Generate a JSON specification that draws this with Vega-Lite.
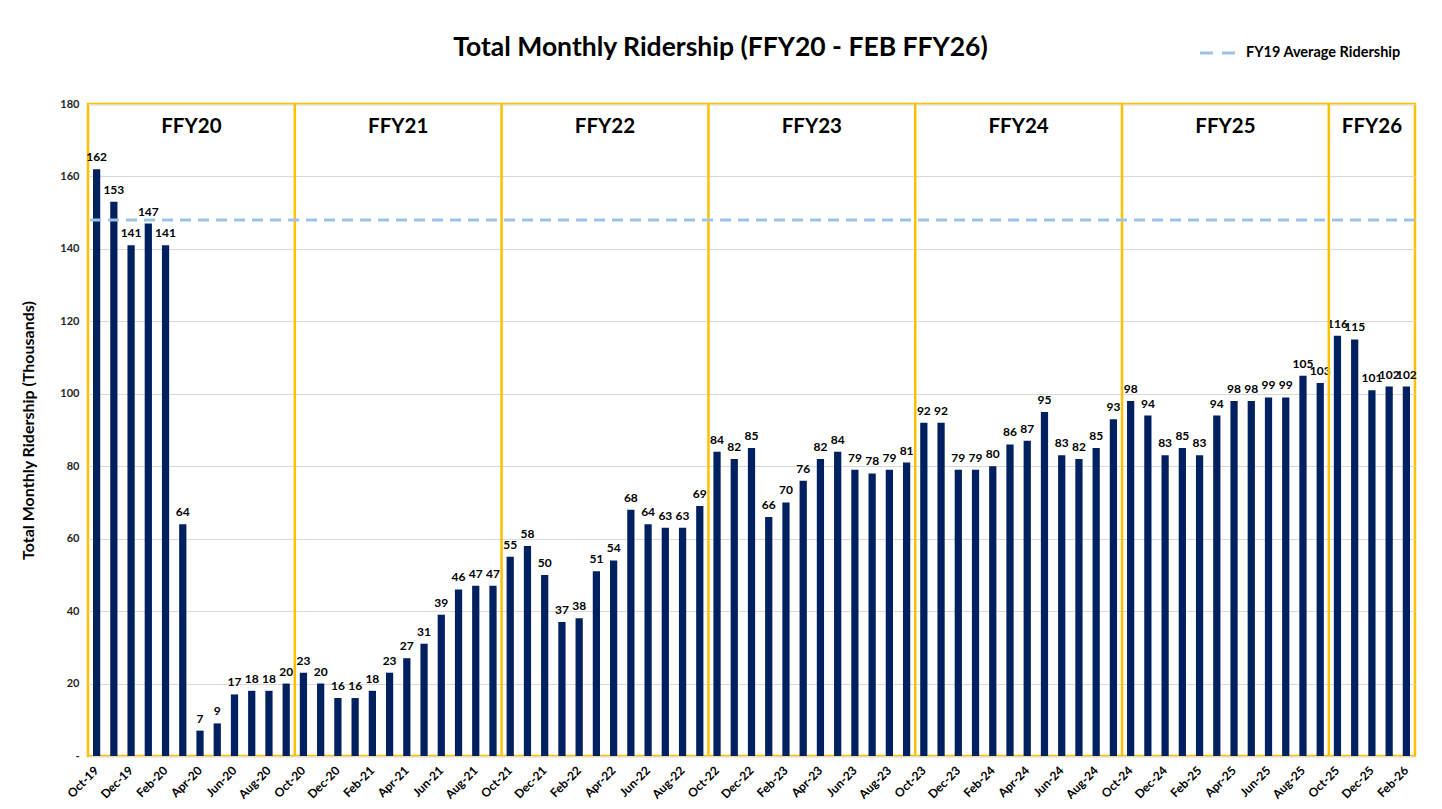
{
  "$schema": "https://vega.github.io/schema/vega-lite/v6.json",
  "width": 1327,
  "height": 652,
  "autosize": "none",
  "padding": {"left": 88, "top": 104, "right": 27, "bottom": 53},
  "background": "white",
  "config": {
    "font": "Lato",
    "view": {"stroke": "#FFC000", "strokeWidth": 2.5}
  },
  "title": {
    "text": "Total Monthly Ridership (FFY20 - FEB FFY26)",
    "font": "Lato",
    "fontSize": 26.5,
    "fontWeight": "bold",
    "color": "#000000",
    "anchor": "middle",
    "dx": -31,
    "offset": -28
  },
  "datasets": {
    "months": [
      {"month": "Oct-19", "riders": 162}, {"month": "Nov-19", "riders": 153}, {"month": "Dec-19", "riders": 141},
      {"month": "Jan-20", "riders": 147}, {"month": "Feb-20", "riders": 141}, {"month": "Mar-20", "riders": 64},
      {"month": "Apr-20", "riders": 7}, {"month": "May-20", "riders": 9}, {"month": "Jun-20", "riders": 17},
      {"month": "Jul-20", "riders": 18}, {"month": "Aug-20", "riders": 18}, {"month": "Sep-20", "riders": 20},
      {"month": "Oct-20", "riders": 23}, {"month": "Nov-20", "riders": 20}, {"month": "Dec-20", "riders": 16},
      {"month": "Jan-21", "riders": 16}, {"month": "Feb-21", "riders": 18}, {"month": "Mar-21", "riders": 23},
      {"month": "Apr-21", "riders": 27}, {"month": "May-21", "riders": 31}, {"month": "Jun-21", "riders": 39},
      {"month": "Jul-21", "riders": 46}, {"month": "Aug-21", "riders": 47}, {"month": "Sep-21", "riders": 47},
      {"month": "Oct-21", "riders": 55}, {"month": "Nov-21", "riders": 58}, {"month": "Dec-21", "riders": 50},
      {"month": "Jan-22", "riders": 37}, {"month": "Feb-22", "riders": 38}, {"month": "Mar-22", "riders": 51},
      {"month": "Apr-22", "riders": 54}, {"month": "May-22", "riders": 68}, {"month": "Jun-22", "riders": 64},
      {"month": "Jul-22", "riders": 63}, {"month": "Aug-22", "riders": 63}, {"month": "Sep-22", "riders": 69},
      {"month": "Oct-22", "riders": 84}, {"month": "Nov-22", "riders": 82}, {"month": "Dec-22", "riders": 85},
      {"month": "Jan-23", "riders": 66}, {"month": "Feb-23", "riders": 70}, {"month": "Mar-23", "riders": 76},
      {"month": "Apr-23", "riders": 82}, {"month": "May-23", "riders": 84}, {"month": "Jun-23", "riders": 79},
      {"month": "Jul-23", "riders": 78}, {"month": "Aug-23", "riders": 79}, {"month": "Sep-23", "riders": 81},
      {"month": "Oct-23", "riders": 92}, {"month": "Nov-23", "riders": 92}, {"month": "Dec-23", "riders": 79},
      {"month": "Jan-24", "riders": 79}, {"month": "Feb-24", "riders": 80}, {"month": "Mar-24", "riders": 86},
      {"month": "Apr-24", "riders": 87}, {"month": "May-24", "riders": 95}, {"month": "Jun-24", "riders": 83},
      {"month": "Jul-24", "riders": 82}, {"month": "Aug-24", "riders": 85}, {"month": "Sep-24", "riders": 93},
      {"month": "Oct-24", "riders": 98}, {"month": "Nov-24", "riders": 94}, {"month": "Dec-24", "riders": 83},
      {"month": "Jan-25", "riders": 85}, {"month": "Feb-25", "riders": 83}, {"month": "Mar-25", "riders": 94},
      {"month": "Apr-25", "riders": 98}, {"month": "May-25", "riders": 98}, {"month": "Jun-25", "riders": 99},
      {"month": "Jul-25", "riders": 99}, {"month": "Aug-25", "riders": 105}, {"month": "Sep-25", "riders": 103},
      {"month": "Oct-25", "riders": 116}, {"month": "Nov-25", "riders": 115}, {"month": "Dec-25", "riders": 101},
      {"month": "Jan-26", "riders": 102}, {"month": "Feb-26", "riders": 102}
    ],
    "years": [
      {"fy": "FFY20", "start": "Oct-19", "mid": "Apr-20", "months": 12},
      {"fy": "FFY21", "start": "Oct-20", "mid": "Apr-21", "months": 12},
      {"fy": "FFY22", "start": "Oct-21", "mid": "Apr-22", "months": 12},
      {"fy": "FFY23", "start": "Oct-22", "mid": "Apr-23", "months": 12},
      {"fy": "FFY24", "start": "Oct-23", "mid": "Apr-24", "months": 12},
      {"fy": "FFY25", "start": "Oct-24", "mid": "Apr-25", "months": 12},
      {"fy": "FFY26", "start": "Oct-25", "mid": "Dec-25", "months": 5}
    ]
  },
  "layer": [
    {
      "data": {"name": "months"},
      "mark": {"type": "bar", "color": "#002060", "width": {"band": 0.42}},
      "encoding": {
        "x": {
          "field": "month",
          "type": "nominal",
          "sort": null,
          "scale": {
            "type": "band",
            "paddingInner": 0,
            "paddingOuter": 0,
            "domain": ["Oct-19","Nov-19","Dec-19","Jan-20","Feb-20","Mar-20","Apr-20","May-20","Jun-20","Jul-20","Aug-20","Sep-20",
                       "Oct-20","Nov-20","Dec-20","Jan-21","Feb-21","Mar-21","Apr-21","May-21","Jun-21","Jul-21","Aug-21","Sep-21",
                       "Oct-21","Nov-21","Dec-21","Jan-22","Feb-22","Mar-22","Apr-22","May-22","Jun-22","Jul-22","Aug-22","Sep-22",
                       "Oct-22","Nov-22","Dec-22","Jan-23","Feb-23","Mar-23","Apr-23","May-23","Jun-23","Jul-23","Aug-23","Sep-23",
                       "Oct-23","Nov-23","Dec-23","Jan-24","Feb-24","Mar-24","Apr-24","May-24","Jun-24","Jul-24","Aug-24","Sep-24",
                       "Oct-24","Nov-24","Dec-24","Jan-25","Feb-25","Mar-25","Apr-25","May-25","Jun-25","Jul-25","Aug-25","Sep-25",
                       "Oct-25","Nov-25","Dec-25","Jan-26","Feb-26"]
          },
          "axis": {
            "title": null,
            "values": ["Oct-19","Dec-19","Feb-20","Apr-20","Jun-20","Aug-20","Oct-20","Dec-20","Feb-21","Apr-21","Jun-21","Aug-21",
                       "Oct-21","Dec-21","Feb-22","Apr-22","Jun-22","Aug-22","Oct-22","Dec-22","Feb-23","Apr-23","Jun-23","Aug-23",
                       "Oct-23","Dec-23","Feb-24","Apr-24","Jun-24","Aug-24","Oct-24","Dec-24","Feb-25","Apr-25","Jun-25","Aug-25",
                       "Oct-25","Dec-25","Feb-26"],
            "labelAngle": -45,
            "labelAlign": "right",
            "labelBaseline": "middle",
            "labelPadding": 12,
            "labelFont": "Lato",
            "labelFontSize": 12,
            "labelFontWeight": "bold",
            "labelColor": "#000000",
            "ticks": false,
            "domain": false,
            "grid": false
          }
        },
        "y": {
          "field": "riders",
          "type": "quantitative",
          "scale": {"domain": [0, 180], "nice": false},
          "axis": {
            "title": "Total Monthly Ridership (Thousands)",
            "titleFont": "Lato",
            "titleFontSize": 16,
            "titleFontWeight": "bold",
            "titleColor": "#000000",
            "titlePadding": 23,
            "values": [0, 20, 40, 60, 80, 100, 120, 140, 160, 180],
            "labelExpr": "datum.value == 0 ? '-' : datum.label",
            "labelFont": "Lato",
            "labelFontSize": 11,
            "labelFontWeight": "bold",
            "labelColor": "#262626",
            "labelPadding": 9,
            "ticks": false,
            "domain": false,
            "grid": true,
            "gridColor": "#D9D9D9",
            "gridWidth": 1
          }
        }
      }
    },
    {
      "data": {"name": "months"},
      "mark": {"type": "text", "dy": -12, "font": "Lato", "fontSize": 12, "fontWeight": "bold", "color": "#000000"},
      "encoding": {
        "x": {"field": "month", "type": "nominal", "sort": null},
        "y": {"field": "riders", "type": "quantitative"},
        "text": {"field": "riders", "type": "quantitative"}
      }
    },
    {
      "data": {"name": "years"},
      "transform": [{"filter": "datum.fy != 'FFY20'"}],
      "mark": {"type": "rule", "color": "#FFC000", "strokeWidth": 2.5},
      "encoding": {
        "x": {"field": "start", "type": "nominal", "bandPosition": 0}
      }
    },
    {
      "data": {"name": "years"},
      "transform": [{"filter": "datum.months == 12"}],
      "mark": {"type": "text", "font": "Lato", "fontSize": 20.5, "fontWeight": "bold", "color": "#000000", "baseline": "middle"},
      "encoding": {
        "x": {"field": "mid", "type": "nominal", "bandPosition": 0},
        "y": {"datum": 173.6},
        "text": {"field": "fy", "type": "nominal"}
      }
    },
    {
      "data": {"name": "years"},
      "transform": [{"filter": "datum.months != 12"}],
      "mark": {"type": "text", "font": "Lato", "fontSize": 20.5, "fontWeight": "bold", "color": "#000000", "baseline": "middle"},
      "encoding": {
        "x": {"field": "mid", "type": "nominal", "bandPosition": 0.5},
        "y": {"datum": 173.6},
        "text": {"field": "fy", "type": "nominal"}
      }
    },
    {
      "data": {"values": [{"series": "FY19 Average Ridership", "avg": 148}]},
      "mark": {"type": "rule", "strokeWidth": 3, "strokeDash": [11, 7]},
      "encoding": {
        "y": {"field": "avg", "type": "quantitative"},
        "color": {
          "field": "series",
          "type": "nominal",
          "scale": {"range": ["#9DC3E6"]},
          "legend": {
            "title": null,
            "orient": "none",
            "legendX": 1110,
            "legendY": -71,
            "symbolType": "stroke",
            "symbolSize": 1300,
            "symbolStrokeWidth": 3,
            "symbolDash": [13, 9],
            "labelFont": "Lato",
            "labelFontSize": 14.5,
            "labelFontWeight": "bold",
            "labelColor": "#000000",
            "labelOffset": 8
          }
        }
      }
    }
  ]
}
